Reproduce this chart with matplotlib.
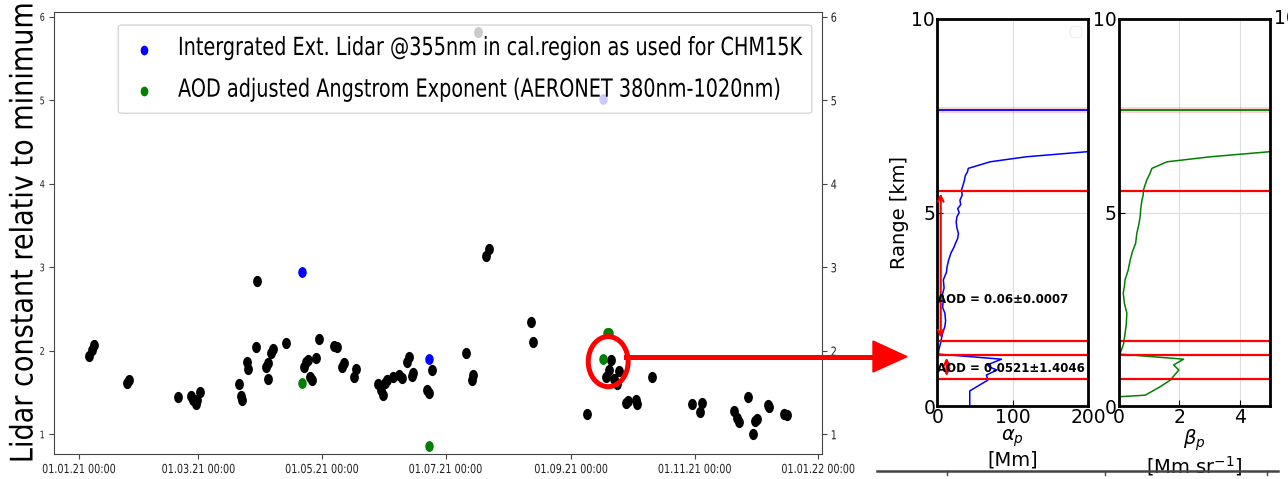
import matplotlib
matplotlib.use('Agg')
import matplotlib.pyplot as plt
import matplotlib.dates as mdates
import pandas as pd
from matplotlib.patches import Ellipse, Polygon, FancyBboxPatch
from matplotlib.lines import Line2D
from matplotlib.path import Path
from matplotlib.patheffects import AbstractPathEffect
from matplotlib.transforms import Affine2D

# lidar constant time series (relative to minimum)
cal_dates = [
    '2021-01-06 02:00', '2021-01-07 07:00', '2021-01-08 10:00', '2021-01-24 22:00', '2021-01-25 19:00',
    '2021-02-19 00:00', '2021-02-25 02:00', '2021-02-26 10:00', '2021-02-27 19:00', '2021-02-28 10:00',
    '2021-03-01 17:00', '2021-03-21 00:00', '2021-03-21 19:00', '2021-03-22 14:00', '2021-03-24 19:00',
    '2021-03-25 14:00', '2021-03-29 05:00', '2021-03-30 00:00', '2021-04-03 05:00', '2021-04-04 12:00',
    '2021-04-04 05:00', '2021-04-05 19:00', '2021-04-06 22:00', '2021-04-13 00:00', '2021-04-22 02:00',
    '2021-04-23 02:00', '2021-04-24 05:00', '2021-04-25 00:00', '2021-04-26 05:00', '2021-04-28 00:00',
    '2021-04-29 14:00', '2021-05-07 02:00', '2021-05-08 05:00', '2021-05-11 00:00', '2021-05-11 19:00',
    '2021-05-16 22:00', '2021-05-17 22:00', '2021-05-28 19:00', '2021-05-30 02:00', '2021-05-30 22:00',
    '2021-06-01 02:00', '2021-06-02 05:00', '2021-06-04 22:00', '2021-06-08 00:00', '2021-06-09 14:00',
    '2021-06-12 02:00', '2021-06-12 22:00', '2021-06-14 07:00', '2021-06-15 02:00', '2021-06-22 00:00',
    '2021-06-22 22:00', '2021-06-24 02:00', '2021-07-10 22:00', '2021-07-13 22:00', '2021-07-14 17:00',
    '2021-07-16 19:00', '2021-07-20 22:00', '2021-07-22 14:00', '2021-08-12 00:00', '2021-08-13 00:00',
    '2021-09-08 14:00', '2021-09-18 00:00', '2021-09-19 12:00', '2021-09-20 14:00', '2021-09-22 07:00',
    '2021-09-23 19:00', '2021-09-24 14:00', '2021-09-27 22:00', '2021-09-29 05:00', '2021-10-02 19:00',
    '2021-10-03 14:00', '2021-10-11 02:00', '2021-10-30 19:00', '2021-11-03 14:00', '2021-11-04 10:00',
    '2021-11-20 12:00', '2021-11-21 17:00', '2021-11-22 19:00', '2021-11-27 10:00', '2021-11-29 14:00',
    '2021-11-30 17:00', '2021-12-01 22:00', '2021-12-07 00:00', '2021-12-07 17:00', '2021-12-15 05:00',
    '2021-12-16 10:00',
]
cal_values = [
    1.94, 2.01, 2.07, 1.62, 1.65,
    1.45, 1.46, 1.41, 1.36, 1.41,
    1.51, 1.60, 1.46, 1.41, 1.86,
    1.78, 2.05, 2.84, 1.81, 1.85,
    1.66, 1.97, 2.02, 2.09, 1.81,
    1.86, 1.89, 1.69, 1.65, 1.91,
    2.14, 2.06, 2.04, 1.81, 1.85,
    1.68, 1.78, 1.60, 1.53, 1.47,
    1.61, 1.65, 1.69, 1.71, 1.67,
    1.86, 1.93, 1.70, 1.73, 1.53,
    1.50, 1.77, 1.97, 1.65, 1.71,
    5.82, 3.13, 3.22, 2.34, 2.11,
    1.24, 1.69, 1.77, 1.89, 1.66,
    1.60, 1.76, 1.38, 1.40, 1.41,
    1.36, 1.68, 1.36, 1.27, 1.37,
    1.28, 1.20, 1.15, 1.45, 1.00,
    1.16, 1.18, 1.35, 1.33, 1.24,
    1.23,
]

lidar_dates = ['2021-04-20 22:00', '2021-06-22 22:00', '2021-09-16 22:00']
lidar_values = [2.94, 1.90, 5.02]

angstrom_dates = ['2021-04-20 22:00', '2021-06-22 22:00', '2021-09-16 22:00',
                  '2021-09-18 12:00', '2021-09-19 19:00']
angstrom_values = [1.61, 0.86, 1.90, 2.21, 2.21]

legend_labels = ['Intergrated Ext. Lidar @355nm in cal.region as used for CHM15K',
                 'AOD adjusted Angstrom Exponent (AERONET 380nm-1020nm)']

# profile of the marked day
alpha_alt = [0.00, 0.39, 0.67, 0.80, 0.93, 1.00, 1.06, 1.21, 1.34, 1.45, 1.60, 1.79, 1.95,
             2.05, 2.20, 2.40, 2.55, 2.74, 2.90, 3.05, 3.26, 3.45, 3.60, 3.77, 3.95, 4.10,
             4.20, 4.33, 4.46, 4.60, 4.75, 4.89, 5.00, 5.10, 5.20, 5.32, 5.45, 5.58, 5.70,
             5.84, 5.95, 6.05, 6.14, 6.31, 6.44, 6.57]
alpha_val = [43, 43, 67, 65, 79, 70, 66, 85, 1.5, 2, 4, 6, 8,
             10, 11, 10, 7, 8, 7, 9, 8, 12, 13, 15, 18, 22,
             24, 27, 28, 26, 25, 26, 29, 27, 31, 30, 33, 32, 34,
             36, 37, 40, 41, 70, 118, 198]

beta_alt = [0.24, 0.28, 0.50, 0.67, 0.93, 1.06, 1.21, 1.34, 1.45, 1.60, 1.87, 2.10, 2.40,
            2.65, 2.92, 3.10, 3.26, 3.50, 3.77, 4.00, 4.20, 4.46, 4.70, 4.89, 5.10, 5.32,
            5.45, 5.58, 5.70, 5.84, 6.00, 6.14, 6.31, 6.44, 6.57]
beta_val = [0.03, 0.87, 1.37, 1.70, 1.98, 1.81, 2.14, 0.03, 0.08, 0.15, 0.20, 0.24, 0.26,
            0.18, 0.14, 0.18, 0.20, 0.30, 0.37, 0.45, 0.55, 0.59, 0.66, 0.70, 0.72, 0.76,
            0.80, 0.81, 0.86, 0.92, 1.02, 1.09, 1.59, 3.03, 4.98]

cloud_top = 7.65
cloud_band = (7.57, 7.72)
layer_bounds = [5.56, 1.69, 1.32, 0.70]
aod_labels = ['AOD = 0.06±0.0007', 'AOD = 0.0521±1.4046']

W, H = 1288, 479
fig = plt.figure(figsize=(W / 100, H / 100), dpi=100)


def fx(px):
    return px / W


def fy(py):
    return 1 - py / H


class Squash(AbstractPathEffect):
    """Scale a text path in its own frame (narrow glyphs)."""

    def __init__(self, sx=0.77, sy=1.0, anchor='center'):
        super().__init__()
        self.sx, self.sy, self.anchor = sx, sy, anchor

    def draw_path(self, renderer, gc, tpath, affine, rgbFace=None):
        ext = tpath.get_extents()
        if self.anchor == 'left':
            x0 = 0
        elif self.anchor == 'right':
            x0 = ext.x1
        else:
            x0 = (ext.x0 + ext.x1) / 2
        y0 = (ext.y0 + ext.y1) / 2
        sq = Affine2D().translate(-x0, -y0).scale(self.sx, self.sy).translate(x0, y0)
        renderer.draw_path(gc, tpath, sq + affine, rgbFace)


# slightly upright oval dots
dot = Path.unit_circle().transformed(Affine2D().scale(0.75, 1.0))

# ---- time series ----
ax = fig.add_axes([fx(54), fy(454), (821.7 - 54) / W, (454 - 11.7) / H])
ax.scatter(pd.to_datetime(cal_dates), cal_values, s=50, marker=dot, color='black', zorder=2)
ax.scatter(pd.to_datetime(lidar_dates), lidar_values, s=46, marker=dot, color='blue', zorder=2)
ax.scatter(pd.to_datetime(angstrom_dates), angstrom_values, s=46, marker=dot, color='green', zorder=2)

ax.set_xlim(pd.Timestamp('2020-12-19 16:00'), pd.Timestamp('2022-01-02 17:00'))
ax.set_ylim(0.764, 6.06)
ax.xaxis.set_major_locator(mdates.MonthLocator(bymonth=[1, 3, 5, 7, 9, 11]))
ax.xaxis.set_major_formatter(mdates.DateFormatter('%d.%m.%y %H:%M'))
ax.set_yticks([1, 2, 3, 4, 5, 6])
ax.tick_params(right=True, labelright=True, color='#444444', labelcolor='#222222', pad=3)
ax.tick_params(axis='x', labelsize=9)
for tk in ax.xaxis.get_major_ticks():
    tk.label1.set_path_effects([Squash(0.77, anchor='center')])
for tk in ax.yaxis.get_major_ticks():
    tk.label1.set_fontsize(7.5)
    tk.label1.set_path_effects([Squash(0.77, anchor='right')])
    tk.label2.set_fontsize(9)
    tk.label2.set_path_effects([Squash(0.77, anchor='left')])
for sp in ax.spines.values():
    sp.set_color('#444444')

# legend box (semi transparent, points behind it show through)
fig.add_artist(FancyBboxPatch((fx(118.3), fy(113.3)), fx(811.7 - 118.3), (113.3 - 25) / H,
                              boxstyle='round,pad=0,rounding_size=0.004',
                              transform=fig.transFigure, facecolor='white',
                              edgecolor='0.8', alpha=0.8, lw=1, zorder=5))
for (lab, col, ym, yb) in [(legend_labels[0], 'blue', 50, 55), (legend_labels[1], 'green', 90.7, 96.7)]:
    fig.add_artist(Line2D([fx(144)], [fy(ym)], transform=fig.transFigure, ls='none',
                          marker=dot, ms=6, color=col, zorder=6))
    fig.text(fx(178), fy(yb), lab, fontsize=18, ha='left', va='baseline', zorder=6,
             path_effects=[Squash(0.77, anchor='left')])

fig.text(fx(24), fy(232), 'Lidar constant relativ to minimum', rotation=90,
         ha='center', va='center', fontsize=19.5, path_effects=[Squash(1.0, 1.15)])

# mark the selected day
t0 = mdates.date2num(pd.Timestamp('2021-09-19 07:00'))
ax.add_patch(Ellipse((t0, 1.87), width=19.7, height=0.6, fill=False,
                     edgecolor='red', lw=3.6, zorder=4, clip_on=False))

# connecting arrow to the profile panels
fig.add_artist(Line2D([fx(626), fx(877)], [fy(356.7), fy(356.7)], color='red', lw=3.6))
fig.add_artist(Polygon([[fx(873), fy(341)], [fx(907), fy(356.7)], [fx(873), fy(372)]],
                       closed=True, color='red', transform=fig.transFigure))

# ---- profile panels ----
p1 = fig.add_axes([fx(937.3), fy(406), 151 / W, 387 / H])
p2 = fig.add_axes([fx(1119), fy(406), 151 / W, 387 / H])

p1.plot(alpha_val, alpha_alt, color='blue', lw=1.1)
p1.axhspan(*cloud_band, color='red', alpha=0.18, lw=0)
p1.axhline(cloud_top, color='blue', lw=1.3)
p2.plot(beta_val, beta_alt, color='green', lw=1.1)
p2.axhspan(*cloud_band, color='red', alpha=0.18, lw=0)
p2.axhline(cloud_top, color='green', lw=1.3)

for p in (p1, p2):
    for lvl in layer_bounds:
        p.axhline(lvl, color='red', lw=1.6)
    p.set_ylim(0, 10)
    p.set_yticks([0, 5, 10])
    p.grid(True, color='#dddddd', lw=0.8)
    p.set_axisbelow(True)
    p.tick_params(direction='in', labelsize=13.5, pad=1.5, length=4)
    for sp in p.spines.values():
        sp.set_linewidth(2)

p1.annotate('', xy=(4.5, layer_bounds[0]), xytext=(4.5, layer_bounds[1]),
            arrowprops=dict(arrowstyle='<->', color='red', lw=1.6))
p1.annotate('', xy=(12.4, layer_bounds[2]), xytext=(12.4, layer_bounds[3]),
            arrowprops=dict(arrowstyle='<->', color='red', lw=1.6))
p1.text(0, 2.76, aod_labels[0], fontweight='bold', fontsize=8.5, va='center')
p1.text(0, 0.96, aod_labels[1], fontweight='bold', fontsize=8.5, va='center')

p1.set_xlim(0, 200)
p1.set_xticks([0, 100, 200])
p2.set_xlim(0, 5)
p2.set_xticks([0, 2, 4])
p1.set_ylabel('Range [km]', fontsize=14, labelpad=2)
p1.set_xlabel('$\\alpha_p$\n[Mm]', fontsize=14, labelpad=0, linespacing=1.1)
p2.set_xlabel('$\\beta_p$\n[Mm sr$^{-1}$]', fontsize=14, labelpad=0, linespacing=1.1)
p1.legend(handles=[], loc='upper right', framealpha=0.3)

# edge of the next panel row / column
fig.text(fx(1273.5), fy(19), '10', fontsize=13.5, ha='left', va='center')
fig.add_artist(Line2D([fx(877), fx(1278)], [fy(470.7), fy(470.7)], color='#444444', lw=1.8))
for tx in (946.7, 1105, 1266.7):
    fig.add_artist(Line2D([fx(tx), fx(tx)], [fy(470.7), fy(475)], color='#444444', lw=1))

fig.savefig('out.png', dpi=100)
